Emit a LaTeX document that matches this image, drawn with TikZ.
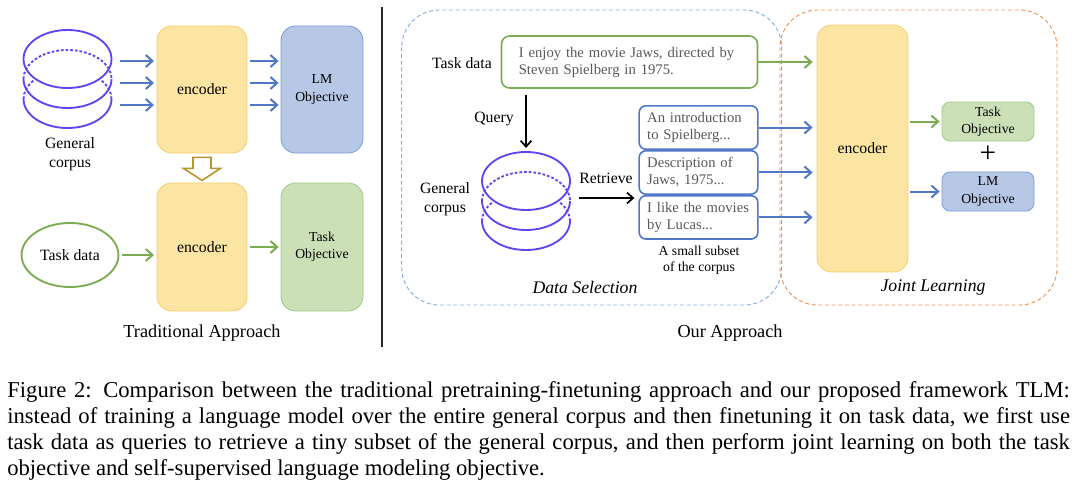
\documentclass[tikz,border=0pt]{standalone}
\usepackage{fontspec}
\setmainfont{Liberation Serif}
\usetikzlibrary{positioning,shapes.geometric,arrows.meta}

\definecolor{encfill}{HTML}{FCE5A2}
\definecolor{encdraw}{HTML}{F3CF6E}
\definecolor{lmfill}{HTML}{B7C7E6}
\definecolor{lmdraw}{HTML}{7D9BD5}
\definecolor{taskfill}{HTML}{CCE0B8}
\definecolor{taskdraw}{HTML}{A2C887}
\definecolor{blueline}{HTML}{5177C9}
\definecolor{greenline}{HTML}{7BAC52}
\definecolor{diskline}{HTML}{6543F0}
\definecolor{hollowline}{HTML}{B8942E}
\definecolor{selline}{HTML}{86ADE3}
\definecolor{jointline}{HTML}{EE9158}
\definecolor{grytext}{HTML}{595959}

\tikzset{
  disk/.style={draw=diskline, line width=1.4pt},
  corpus/.pic={
    \draw[disk] (0,0) ellipse [x radius=33pt, y radius=21.75pt];
    \draw[disk, dash pattern=on 2pt off 1.5pt] ([xshift=-33pt]0,20) arc [start angle=180, end angle=0, x radius=33pt, y radius=21.75pt];
    \draw[disk] ([xshift=-33pt]0,20) arc [start angle=180, end angle=360, x radius=33pt, y radius=21.75pt];
    \draw[disk, dash pattern=on 2pt off 1.5pt] ([xshift=-33pt]0,40) arc [start angle=180, end angle=140, x radius=33pt, y radius=21.75pt];
    \draw[disk, dash pattern=on 2pt off 1.5pt] ([xshift=33pt]0,40) arc [start angle=0, end angle=40, x radius=33pt, y radius=21.75pt];
    \draw[disk] ([xshift=-33pt]0,40) arc [start angle=180, end angle=360, x radius=33pt, y radius=21.75pt];
    \coordinate (-top) at (0,-29);
    \coordinate (-out) at (52.5,17);
  },
  lbl/.style={font=\fontsize{11.8}{14.5}\selectfont, align=center},
  enc/.style={draw=encdraw, fill=encfill, line width=0.6pt, rounded corners=11pt, lbl},
  lmobj/.style={draw=lmdraw, fill=lmfill, line width=0.6pt, align=center, font=\fontsize{10.3}{13}\selectfont},
  taskobj/.style={draw=taskdraw, fill=taskfill, line width=0.6pt, align=center, font=\fontsize{10.3}{13}\selectfont},
  sentbox/.style={draw=greenline, fill=white, line width=1.2pt, rounded corners=6pt, text=grytext, align=left, font=\fontsize{11}{12.75}\selectfont},
  retbox/.style={draw=blueline, fill=white, line width=1.2pt, rounded corners=5pt, text=grytext, align=left, text width=77pt, inner xsep=6pt, minimum height=32.5pt, font=\fontsize{11}{12.75}\selectfont},
  barrow/.style={draw=blueline, line width=1.5pt, -{Straight Barb[length=5pt, width=9pt]}},
  garrow/.style={draw=greenline, line width=1.5pt, -{Straight Barb[length=5pt, width=9pt]}},
  karrow/.style={draw=black, line width=1.3pt, -{Straight Barb[length=4.5pt, width=8pt]}},
  region/.style={line width=0.7pt, dash pattern=on 3pt off 2pt, rounded corners=28pt},
}

\begin{document}
\begin{tikzpicture}[x=0.75pt, y=-0.75pt]
\useasboundingbox (0,0) rectangle (1080,490);

% traditional approach
\pic (corp1) at (67.5,59) {corpus};
\node (gen1) [lbl] at (70,154.5) {General\\corpus};
\node (enc1) [enc, minimum width=67.5pt, minimum height=95.25pt] at (202,89.5) {encoder};
\node (lm1) [lmobj, rounded corners=11pt, minimum width=61.5pt, minimum height=95.25pt] at (322,89.5) {LM\\Objective};
\node (enc2) [enc, minimum width=67.5pt, minimum height=96pt] at (202,247) {encoder};
\node (tobj1) [taskobj, rounded corners=11pt, minimum width=61.5pt, minimum height=96pt] at (322,247) {Task\\Objective};
\node (task1) [ellipse, draw=greenline, line width=1.4pt, minimum width=72pt, minimum height=48pt, lbl] at (70,255) {Task data};
\foreach \y in {61,83,105} {
  \draw[barrow, shorten >=2pt] (corp1-out |- 0,\y) -- (enc1.west |- 0,\y);
  \draw[barrow, shorten <=2pt, shorten >=1.5pt] (enc1.east |- 0,\y) -- (lm1.west |- 0,\y);
}
\draw[garrow, shorten <=2pt, shorten >=2pt] (task1.east) -- (enc2.west |- task1.east);
\draw[garrow, shorten <=2pt, shorten >=1.5pt] (enc2.east) -- (tobj1.west);
\path (enc1.south) ++(0,4) coordinate (shift1);
\draw[draw=hollowline, fill=white, line width=1.2pt, line join=miter] (shift1) ++(-9,0) -- ++(0,11) -- ++(-9.5,0) -- ++(18.5,12) -- ++(18.5,-12) -- ++(-9.5,0) -- ++(0,-11) -- cycle;
\node (trad) [font=\fontsize{13.7}{16}\selectfont] at (202,333) {Traditional Approach};

\draw[draw=black!85, line width=1.3pt] (382,7) -- (382,347);

% our approach
\draw[region, draw=selline] (401.7,10) rectangle (781.7,305);
\draw[region, draw=jointline] (780,10) rectangle (1057,305);

\node (tasklbl) [lbl] at (462,63) {Task data};
\node (sent) [sentbox, text width=166pt, inner xsep=13pt, minimum height=39pt] at (629.5,62) {I enjoy the movie Jaws, directed by\\Steven Spielberg in 1975.};
\pic (corp2) at (526,181) {corpus};
\node (gen2) [lbl] at (445,199) {General\\corpus};
\draw[karrow] ([yshift=-5pt]sent.south -| corp2-top) -- ([yshift=3pt]corp2-top);
\node (query) [lbl] at (494,119) {Query};

\node (ret1) [retbox] at (698.5,127.5) {An introduction\\to Spielberg...};
\node (ret2) [retbox, below=0pt of ret1] {Description of\\Jaws, 1975...};
\node (ret3) [retbox, below=0pt of ret2] {I like the movies\\by Lucas...};
\draw[karrow, shorten >=3pt] (corp2-out) -- (corp2-out -| ret2.west);
\node (retr) [lbl] at (606,178) {Retrieve};
\node (subset) [font=\fontsize{10.3}{12}\selectfont, align=center] at (699,260) {A small subset\\of the corpus};
\node (datasel) [font=\itshape\fontsize{13.3}{16}\selectfont] at (585,287) {Data Selection};

\node (enc3) [enc, minimum width=68.25pt, minimum height=185.25pt] at (862.5,148.5) {encoder};
\node (tobj2) [taskobj, rounded corners=6pt, minimum width=69pt, minimum height=29.25pt] at (988,121.5) {Task\\Objective};
\node (plus) [font=\fontsize{22}{22}\selectfont] at (988,154) {+};
\node (lm2) [lmobj, rounded corners=6pt, minimum width=69pt, minimum height=29.25pt] at (988,191.5) {LM\\Objective};
\node (joint) [font=\itshape\fontsize{13.3}{16}\selectfont] at (933,288) {Joint Learning};

\draw[garrow, shorten >=3pt] (sent.east) -- (sent.east -| enc3.west);
\foreach \r in {ret1,ret2,ret3}
  \draw[barrow, shorten >=3pt] (\r.east) -- (\r.east -| enc3.west);
\draw[garrow, shorten <=1.5pt, shorten >=1.5pt] (enc3.east |- tobj2.west) -- (tobj2.west);
\draw[barrow, shorten <=1.5pt, shorten >=1.5pt] (enc3.east |- lm2.west) -- (lm2.west);
\node (ourapp) [font=\fontsize{13.7}{16}\selectfont] at (730,333) {Our Approach};

% caption
\node (caption) [anchor=north west, inner sep=0pt, align=left, font=\fontsize{17}{19.5}\selectfont] at (7,381) {%
\makebox[797pt][s]{Figure 2: Comparison between the traditional pretraining-finetuning approach and our proposed framework TLM:}\\
\makebox[797pt][s]{instead of training a language model over the entire general corpus and then finetuning it on task data, we first use}\\
\makebox[797pt][s]{task data as queries to retrieve a tiny subset of the general corpus, and then perform joint learning on both the task}\\
objective and self-supervised language modeling objective.};
\end{tikzpicture}
\end{document}
